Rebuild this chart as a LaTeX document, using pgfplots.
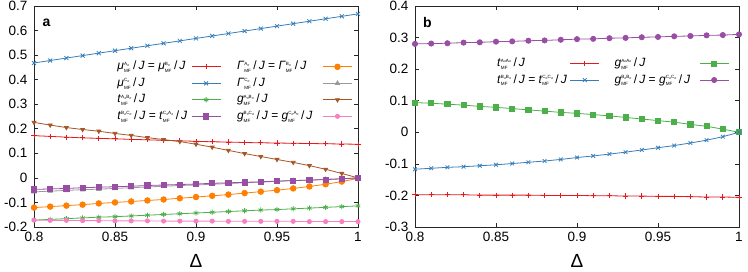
\documentclass[border=0pt]{standalone}
\usepackage{fontspec}
\setmainfont{Liberation Sans}
\usepackage{amsmath}
\usepackage{pgfplots}
\usepackage{pgfplotstable}
\pgfplotsset{compat=1.18}

\definecolor{cred}{HTML}{E41A1C}
\definecolor{cblue}{HTML}{377EB8}
\definecolor{cgreen}{HTML}{4DAF4A}
\definecolor{cpurple}{HTML}{984EA3}
\definecolor{corange}{HTML}{FF7F00}
\definecolor{cgray}{HTML}{999999}
\definecolor{cbrown}{HTML}{A65628}
\definecolor{cpink}{HTML}{F781BF}

\newcommand{\s}[1]{\raisebox{-0.3ex}{\fontsize{3.2}{3.5}\selectfont #1}}
\newcommand{\sm}[1]{\text{\fontsize{4.6}{5}\selectfont #1}}
\newcommand{\mfl}[2]{\textit{#1}$^{\sm{#2}}_{\sm{MF}}$\,/\,\textit{J}}

\pgfplotstableread{
x muA muC tAB tBC GA GC gAB gBC
0.80 0.172 0.468 -0.172 -0.047 -0.121 -0.057 0.226 -0.172
0.81 0.169 0.478 -0.169 -0.045 -0.117 -0.054 0.215 -0.173
0.82 0.166 0.488 -0.166 -0.043 -0.113 -0.051 0.205 -0.173
0.83 0.163 0.498 -0.163 -0.040 -0.109 -0.048 0.197 -0.174
0.84 0.161 0.508 -0.160 -0.038 -0.104 -0.046 0.190 -0.174
0.85 0.159 0.518 -0.158 -0.036 -0.100 -0.043 0.181 -0.175
0.86 0.157 0.528 -0.155 -0.034 -0.096 -0.040 0.173 -0.175
0.87 0.155 0.538 -0.152 -0.031 -0.092 -0.037 0.164 -0.175
0.88 0.153 0.548 -0.149 -0.029 -0.088 -0.034 0.156 -0.176
0.89 0.151 0.558 -0.146 -0.027 -0.083 -0.031 0.148 -0.176
0.90 0.149 0.568 -0.143 -0.025 -0.078 -0.029 0.137 -0.176
0.91 0.147 0.578 -0.140 -0.022 -0.073 -0.026 0.125 -0.176
0.92 0.146 0.588 -0.137 -0.020 -0.068 -0.023 0.112 -0.177
0.93 0.144 0.598 -0.134 -0.018 -0.062 -0.020 0.099 -0.177
0.94 0.143 0.608 -0.131 -0.016 -0.056 -0.017 0.087 -0.177
0.95 0.142 0.618 -0.129 -0.013 -0.050 -0.014 0.075 -0.177
0.96 0.141 0.628 -0.126 -0.011 -0.043 -0.011 0.063 -0.177
0.97 0.140 0.638 -0.123 -0.009 -0.035 -0.009 0.050 -0.178
0.98 0.139 0.648 -0.120 -0.007 -0.026 -0.006 0.035 -0.178
0.99 0.138 0.658 -0.117 -0.004 -0.015 -0.003 0.018 -0.178
1.00 0.137 0.668 -0.114 0.000 -0.002 0.000 0.000 -0.178
}\tabA

\pgfplotstableread{
x tAA tBB gAA gBB
0.80 -0.198 -0.117 0.094 0.280
0.81 -0.198 -0.114 0.092 0.281
0.82 -0.198 -0.111 0.089 0.282
0.83 -0.198 -0.109 0.086 0.284
0.84 -0.199 -0.106 0.082 0.285
0.85 -0.199 -0.103 0.079 0.287
0.86 -0.199 -0.099 0.075 0.288
0.87 -0.199 -0.095 0.071 0.290
0.88 -0.200 -0.091 0.067 0.291
0.89 -0.200 -0.086 0.063 0.293
0.90 -0.200 -0.080 0.060 0.295
0.91 -0.201 -0.075 0.056 0.296
0.92 -0.201 -0.069 0.052 0.298
0.93 -0.202 -0.063 0.047 0.299
0.94 -0.202 -0.056 0.042 0.301
0.95 -0.203 -0.049 0.037 0.302
0.96 -0.203 -0.042 0.032 0.304
0.97 -0.204 -0.034 0.025 0.305
0.98 -0.205 -0.025 0.019 0.307
0.99 -0.205 -0.014 0.010 0.308
1.00 -0.206 0.000 0.000 0.310
}\tabB

\pgfplotsset{
  common/.style={
    scale only axis, width=324pt, height=221pt,
    xmin=0.8, xmax=1.0,
    xtick={0.8,0.85,0.9,0.95,1.0},
    xticklabels={0.8,0.85,0.9,0.95,1},
    tick pos=both, tick align=inside,
    major tick length=4pt,
    minor tick num=0,
    axis line style={line width=0.8pt, black!85},
    tick style={line width=0.6pt, black!85},
    tick label style={font=\fontsize{13.5}{15}\selectfont},
    yticklabel style={xshift=-3pt},
    xticklabel style={yshift=-2pt},
    /pgf/number format/assume math mode=true,
    xlabel={Δ},
    xlabel style={font=\fontsize{19}{20}\selectfont, at={(axis description cs:0.5,0)}, anchor=base, yshift=-41pt, inner sep=0pt},
    every axis plot/.append style={line width=0.8pt},
    legend plot pos=right,
    legend cell align=left,
    legend columns=2,
    legend style={draw=none, fill=none, font=\fontsize{12}{13}\selectfont, anchor=north west,
      inner sep=0pt, row sep=3.5pt,
      nodes={text height=8.5pt, text depth=2.5pt, inner sep=1pt}},
    legend image code/.code={\draw[mark repeat=2,mark phase=2,##1] plot coordinates {(0pt,0pt) (14.5pt,0pt) (29pt,0pt)};},
  }
}

\begin{document}
\begin{tikzpicture}
\useasboundingbox (-34pt,-45pt) rectangle (714pt,227pt);
\begin{axis}[common,
  ymin=-0.2, ymax=0.7,
  ytick={-0.2,-0.1,0,0.1,0.2,0.3,0.4,0.5,0.6,0.7},
  yticklabels={-0.2,-0.1,0,0.1,0.2,0.3,0.4,0.5,0.6,0.7},
  legend style={at={(axis description cs:0.254,0.755)},
    /tikz/column 1/.style={column sep=3pt},
    /tikz/column 2/.style={column sep=15pt},
    /tikz/column 3/.style={column sep=9pt}},
]
\addplot[cred, mark=+, mark size=2.6pt] table[x=x,y=muA] {\tabA};
\addlegendentry{\mfl{μ}{A\s{σ}} = \mfl{μ}{B\s{σ}}}
\addplot[corange, mark=*, mark size=2.8pt] table[x=x,y=GA] {\tabA};
\addlegendentry{\mfl{Γ}{A\s{σ}} = \mfl{Γ}{B\s{σ}}}
\addplot[cblue, mark=x, mark size=2.8pt] table[x=x,y=muC] {\tabA};
\addlegendentry{\mfl{μ}{C\s{σ}}}
\addplot[cgray, mark=triangle*, mark size=2.4pt] table[x=x,y=GC] {\tabA};
\addlegendentry{\mfl{Γ}{C\s{σ}}}
\addplot[cgreen, mark=asterisk, mark size=2.6pt] table[x=x,y=tAB] {\tabA};
\addlegendentry{\mfl{t}{A\s{σ}B\s{σ}}}
\addplot[cbrown, mark=triangle*, mark size=2.2pt, mark options={rotate=180}] table[x=x,y=gAB] {\tabA};
\addlegendentry{\mfl{g}{A\s{σ}B\s{σ}}}
\addplot[cpurple, mark=square*, mark size=2.6pt] table[x=x,y=tBC] {\tabA};
\addlegendentry{\mfl{t}{B\s{σ}C\s{σ}} = \mfl{t}{C\s{σ}A\s{σ}}}
\addplot[cpink, mark=*, mark size=2.1pt] table[x=x,y=gBC] {\tabA};
\addlegendentry{\mfl{g}{B\s{σ}C\s{σ}} = \mfl{g}{C\s{σ}A\s{σ}}}
\node[font=\fontsize{14}{14}\selectfont\bfseries] at (axis description cs:0.039,0.925) {a};
\end{axis}
\begin{axis}[common, xshift=381pt,
  ymin=-0.3, ymax=0.4,
  ytick={-0.3,-0.2,-0.1,0,0.1,0.2,0.3,0.4},
  yticklabels={-0.3,-0.2,-0.1,0,0.1,0.2,0.3,0.4},
  legend style={at={(axis description cs:0.25,0.77)},
    /tikz/column 1/.style={column sep=2pt},
    /tikz/column 2/.style={column sep=14pt},
    /tikz/column 3/.style={column sep=8pt}},
]
\addplot[cred, mark=+, mark size=2.6pt] table[x=x,y=tAA] {\tabB};
\addlegendentry{\mfl{t}{A\s{σ}A\s{σ}}}
\addplot[cgreen, mark=square*, mark size=2.6pt] table[x=x,y=gAA] {\tabB};
\addlegendentry{\mfl{g}{A\s{σ}A\s{σ}}}
\addplot[cblue, mark=x, mark size=2.6pt] table[x=x,y=tBB] {\tabB};
\addlegendentry{\mfl{t}{B\s{σ}B\s{σ}} = \mfl{t}{C\s{σ}C\s{σ}}}
\addplot[cpurple, mark=*, mark size=2.6pt] table[x=x,y=gBB] {\tabB};
\addlegendentry{\mfl{g}{B\s{σ}B\s{σ}} = \mfl{g}{C\s{σ}C\s{σ}}}
\node[font=\fontsize{14}{14}\selectfont\bfseries] at (axis description cs:0.038,0.925) {b};
\end{axis}
\end{tikzpicture}
\end{document}
